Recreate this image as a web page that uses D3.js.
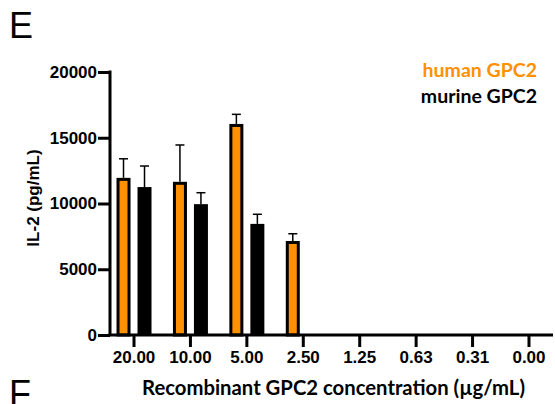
<!DOCTYPE html>
<html>
<head>
<meta charset="utf-8">
<script src="https://cdn.jsdelivr.net/npm/d3@7"></script>
<style>
body { margin: 0; background: #fff; }
</style>
</head>
<body>
<script>
// values
var concentrations = ["20.00", "10.00", "5.00", "2.50", "1.25", "0.63", "0.31", "0.00"];
var humanMean = [11950, 11650, 16050, 7150, 20, 0, 0, 0];
var humanErr  = [13400, 14450, 16780, 7700, 20, 0, 0, 0];
var murineMean = [11250, 9950, 8450, 40, 60, 0, 0, 0];
var murineErr  = [12850, 10820, 9180, 40, 60, 0, 0, 0];
var yTicks = [0, 5000, 10000, 15000, 20000];

var orange = '#FF9100';

var svg = d3.select('body').append('svg')
    .attr('width', 555)
    .attr('height', 404);

var y = d3.scaleLinear().domain([0, 20000]).range([335, 72]);
var x = d3.scaleBand().domain(concentrations).range([105.8, 557.2]).padding(0);

// panel letters
svg.append('text').attr('x', 9).attr('y', 38)
    .style('font-family', 'Liberation Sans, Arial, sans-serif')
    .style('font-size', '36px')
    .text('E');
svg.append('text').attr('x', 9).attr('y', 406)
    .style('font-family', 'Liberation Sans, Arial, sans-serif')
    .style('font-size', '36px')
    .text('F');

var off = 10.5, bw = 14;

// human bars
svg.selectAll('rect.human')
    .data(humanMean)
    .enter()
    .append('rect')
    .attr('class', 'human')
    .attr('x', function(d, i){ return x(concentrations[i]) + x.bandwidth()/2 - off - bw/2 + 1.5; })
    .attr('y', function(d){ return y(d) + 1.5; })
    .attr('width', bw - 3)
    .attr('height', function(d){ return Math.max(0, 335 - y(d) - 1.5); })
    .attr('fill', orange)
    .attr('stroke', 'black')
    .attr('stroke-width', 3)
    .style('display', function(d){ return d > 100 ? null : 'none'; });

// murine bars
svg.selectAll('rect.murine')
    .data(murineMean)
    .enter()
    .append('rect')
    .attr('class', 'murine')
    .attr('x', function(d, i){ return x(concentrations[i]) + x.bandwidth()/2 + off - bw/2; })
    .attr('y', function(d){ return y(d); })
    .attr('width', bw)
    .attr('height', function(d){ return 335 - y(d); })
    .attr('fill', 'black');

// error bars
function errBars(means, errs, dx) {
    means.forEach(function(m, i){
        if (errs[i] - m < 50) return;
        var cx = x(concentrations[i]) + x.bandwidth()/2 + dx;
        svg.append('line')
            .attr('x1', cx).attr('x2', cx)
            .attr('y1', y(m)).attr('y2', y(errs[i]))
            .attr('stroke', 'black').attr('stroke-width', 1.5);
        svg.append('line')
            .attr('x1', cx - 4.5).attr('x2', cx + 4.5)
            .attr('y1', y(errs[i])).attr('y2', y(errs[i]))
            .attr('stroke', 'black').attr('stroke-width', 1.5);
    });
}
errBars(humanMean, humanErr, -off);
errBars(murineMean, murineErr, off);

// y axis
var yAxis = svg.append('g')
    .attr('transform', 'translate(110,0)')
    .call(d3.axisLeft(y).tickValues(yTicks).tickSize(12).tickSizeOuter(0).tickFormat(d3.format('d')));
yAxis.select('.domain').attr('stroke-width', 3).attr('d', 'M0,' + (y(20000) - 1.5) + 'V' + 335);
yAxis.selectAll('.tick line').attr('stroke-width', 3);
yAxis.selectAll('.tick text')
    .attr('x', -13)
    .style('font-family', 'Liberation Sans, Arial, sans-serif')
    .style('font-weight', 'bold')
    .style('font-size', '17px');

// x axis
var xAxis = svg.append('g')
    .attr('transform', 'translate(0,335)')
    .call(d3.axisBottom(x).tickSize(12).tickSizeOuter(0));
xAxis.select('.domain').attr('stroke-width', 3).attr('d', 'M108.5,0H553');
xAxis.selectAll('.tick line').attr('stroke-width', 3);
xAxis.selectAll('.tick text')
    .attr('y', 16)
    .style('font-family', 'Liberation Sans, Arial, sans-serif')
    .style('font-weight', 'bold')
    .style('font-size', '17px');

// axis titles
svg.append('text')
    .attr('transform', 'translate(39,198) rotate(-90)')
    .attr('text-anchor', 'middle')
    .style('font-family', 'Liberation Sans, Arial, sans-serif')
    .style('font-weight', 'bold')
    .style('font-size', '17px')
    .text('IL-2 (pg/mL)');

svg.append('text')
    .attr('x', 333.5).attr('y', 395)
    .attr('text-anchor', 'middle')
    .style('font-family', 'Lato, sans-serif')
    .style('font-weight', 'bold')
    .style('font-size', '20.3px')
    .text('Recombinant GPC2 concentration (µg/mL)');

// legend
svg.append('text')
    .attr('x', 537).attr('y', 77)
    .attr('text-anchor', 'end')
    .attr('fill', orange)
    .style('font-family', 'Lato, sans-serif')
    .style('font-weight', 'bold')
    .style('font-size', '19.5px')
    .text('human GPC2');
svg.append('text')
    .attr('x', 537).attr('y', 103)
    .attr('text-anchor', 'end')
    .attr('fill', 'black')
    .style('font-family', 'Lato, sans-serif')
    .style('font-weight', 'bold')
    .style('font-size', '19.5px')
    .text('murine GPC2');
</script>
</body>
</html>
